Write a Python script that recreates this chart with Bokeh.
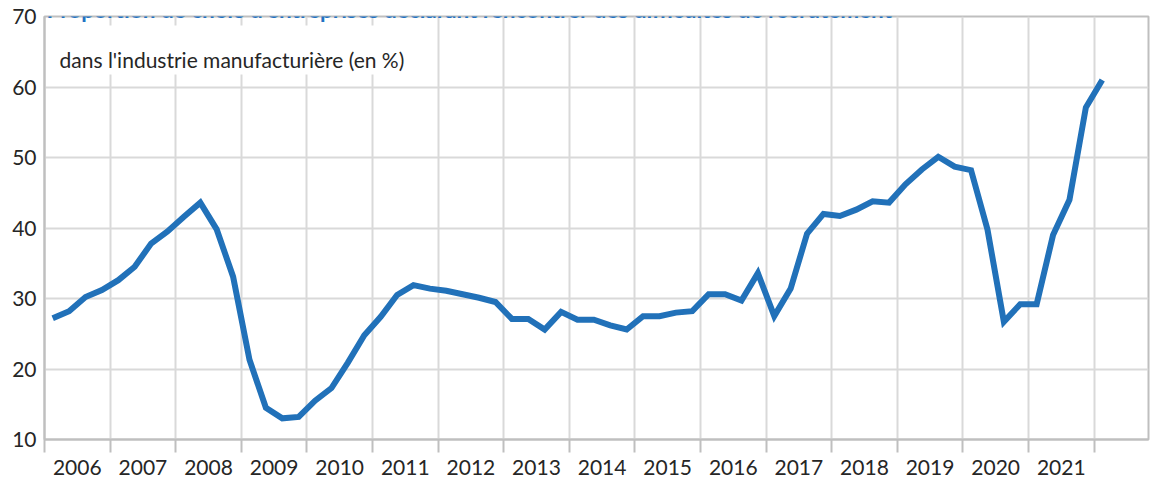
from bokeh.plotting import figure
from bokeh.models import FixedTicker, Range1d, Label, BoxAnnotation, ColumnDataSource
from bokeh.embed import file_html
from bokeh.resources import INLINE

# ---------------- data ----------------
title_text = "Proportion de chefs d'entreprises déclarant rencontrer des difficultés de recrutement"
subtitle_text = "dans l'industrie manufacturière (en %)"
first_year = 2006
year_labels = [str(y) for y in range(2006, 2022)]
y_ticks = [10, 20, 30, 40, 50, 60, 70]
# quarterly share (%) 2006T1 .. 2022T1
values = [27.2, 28.2, 30.2, 31.2, 32.6, 34.5, 37.8, 39.5, 41.6, 43.6,
          39.8, 33.1, 21.3, 14.5, 13.0, 13.2, 15.5, 17.3, 20.9, 24.8,
          27.4, 30.5, 31.9, 31.4, 31.1, 30.6, 30.1, 29.5, 27.1, 27.1,
          25.6, 28.1, 27.0, 27.0, 26.2, 25.6, 27.5, 27.5, 28.0, 28.2,
          30.6, 30.6, 29.7, 33.6, 27.5, 31.4, 39.2, 42.0, 41.7, 42.6,
          43.8, 43.6, 46.2, 48.3, 50.1, 48.7, 48.2, 39.8, 26.7, 29.2,
          29.2, 39.0, 44.0, 57.1, 61.0]
quarters = [f"{first_year + i // 4}T{i % 4 + 1}" for i in range(len(values))]

# quarter positions on a continuous year axis (centre of each quarter)
xpos = [first_year + (i + 0.5) / 4 for i in range(len(values))]
src = ColumnDataSource(dict(x=xpos, y=values, q=quarters))

label_pos = [int(l) + 0.5 for l in year_labels]
bounds = [int(year_labels[0]) + k for k in range(len(year_labels) + 1)]

FONT = "Lato"
TXT = "#262626"
GRID = "#d9d9d9"
AXIS = "#bfbfbf"

p = figure(width=1151, height=481, output_backend="svg", toolbar_location=None,
           x_range=Range1d(2006, 2022.83), y_range=Range1d(10, 70),
           min_border_left=44, min_border_right=3, min_border_top=16,
           min_border_bottom=42, background_fill_color="white",
           border_fill_color="white")

p.outline_line_color = AXIS
p.outline_line_width = 2

# x axis: labels at mid-year, tick marks at year boundaries
p.xaxis.ticker = FixedTicker(ticks=label_pos, minor_ticks=bounds)
p.xaxis.major_label_overrides = {lp: lab for lp, lab in zip(label_pos, year_labels)}
p.xaxis.major_tick_out = 0
p.xaxis.major_tick_in = 0
p.xaxis.minor_tick_out = 13
p.xaxis.minor_tick_in = 0
p.xaxis.minor_tick_line_color = AXIS
p.xaxis.minor_tick_line_width = 2
p.xaxis.axis_line_color = AXIS
p.xaxis.axis_line_width = 2
p.xaxis.major_label_standoff = 7
p.xaxis.major_label_text_font = FONT
p.xaxis.major_label_text_font_size = "21px"
p.xaxis.major_label_text_color = TXT

p.yaxis.ticker = FixedTicker(ticks=y_ticks)
p.yaxis.major_tick_out = 0
p.yaxis.major_tick_in = 0
p.yaxis.minor_tick_out = 0
p.yaxis.minor_tick_in = 0
p.yaxis.axis_line_color = AXIS
p.yaxis.axis_line_width = 2
p.yaxis.major_label_standoff = 8
p.yaxis.major_label_text_font = FONT
p.yaxis.major_label_text_font_size = "21px"
p.yaxis.major_label_text_color = TXT

p.xgrid.ticker = FixedTicker(ticks=bounds)
p.xgrid.grid_line_color = GRID
p.xgrid.grid_line_width = 2
p.ygrid.ticker = FixedTicker(ticks=y_ticks)
p.ygrid.grid_line_color = GRID
p.ygrid.grid_line_width = 2

p.line("x", "y", source=src, line_color="#2171B9", line_width=6,
       line_join="miter", line_cap="butt")

# white box behind the subtitle
box = BoxAnnotation(left=3, right=371, top=414, bottom=365,
                    left_units="screen", right_units="screen",
                    top_units="screen", bottom_units="screen",
                    fill_color="white", fill_alpha=1.0, line_color=None)
p.add_layout(box)

sub = Label(x=15, y=380, x_units="screen", y_units="screen", text=subtitle_text,
            text_font=FONT, text_font_size="21px", text_color=TXT,
            text_baseline="alphabetic", text_align="left")
p.add_layout(sub)

ttl = Label(x=2, y=430, x_units="screen", y_units="screen", text=title_text,
            text_font=FONT, text_font_size="22.5px", text_font_style="bold",
            text_color="#2272C3", text_baseline="alphabetic", text_align="left")
p.add_layout(ttl)

open("out.html", "w").write(file_html(p, INLINE))
